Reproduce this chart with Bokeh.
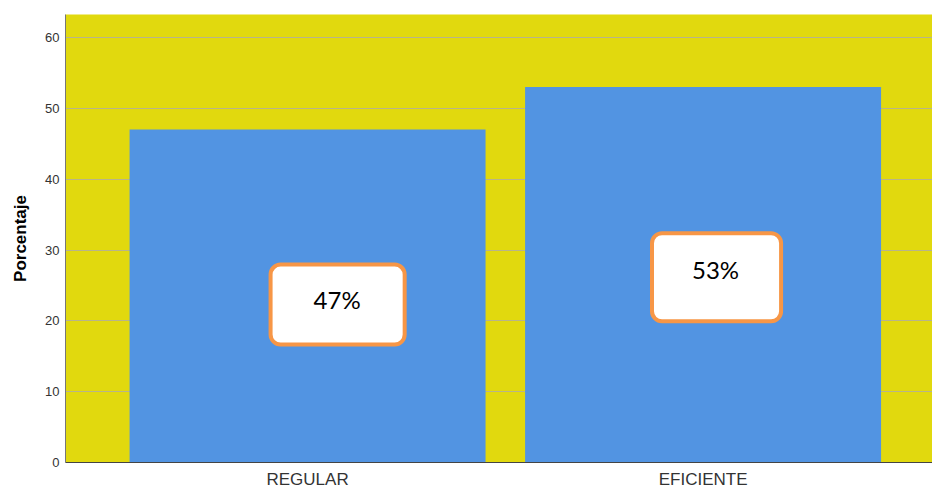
from bokeh.plotting import figure
from bokeh.models import ColumnDataSource, Label, FixedTicker, Range1d
from bokeh.embed import file_html
from bokeh.resources import INLINE

categories = ["REGULAR", "EFICIENTE"]
x_pos = [1, 2]
porcentaje = [47, 53]
label_texts = ["47%", "53%"]
label_x = [1.076, 2.034]
label_y = [22.3, 26.15]
y_ticks = [0, 10, 20, 30, 40, 50, 60]

src = ColumnDataSource(dict(x=x_pos, top=porcentaje, cat=categories))

p = figure(width=932, height=488, output_backend="svg", toolbar_location=None,
           x_range=Range1d(0.388, 2.58), y_range=Range1d(0, 63.25),
           frame_width=867, frame_height=448,
           min_border_left=65, min_border_right=0, min_border_top=14, min_border_bottom=26)
p.background_fill_color = "#E1D90E"
p.border_fill_color = "white"
p.outline_line_color = None

p.vbar(x="x", top="top", width=0.9, bottom=0, source=src,
       fill_color="#5294E2", line_color=None)

p.xgrid.grid_line_color = None
p.ygrid.grid_line_color = "#B8B48A"
p.ygrid.grid_line_width = 1
p.ygrid.ticker = FixedTicker(ticks=y_ticks)

p.yaxis.ticker = FixedTicker(ticks=y_ticks)
p.yaxis.axis_label = "Porcentaje"
p.yaxis.axis_label_text_font = "Liberation Sans"
p.yaxis.axis_label_text_font_style = "bold"
p.yaxis.axis_label_text_font_size = "17px"
p.yaxis.axis_label_text_color = "black"
p.yaxis.axis_label_standoff = 12
p.yaxis.major_label_text_font = "Liberation Sans"
p.yaxis.major_label_text_font_size = "13px"
p.yaxis.major_label_text_color = "#333333"
p.yaxis.major_label_standoff = 6
p.yaxis.major_tick_out = 0
p.yaxis.major_tick_in = 0
p.yaxis.minor_tick_line_color = None
p.yaxis.axis_line_color = "#777777"

p.xaxis.ticker = FixedTicker(ticks=x_pos)
p.xaxis.major_label_overrides = {x: c for x, c in zip(x_pos, categories)}
p.xaxis.major_label_text_font = "Liberation Sans"
p.xaxis.major_label_text_font_size = "17px"
p.xaxis.major_label_text_color = "#333333"
p.xaxis.major_label_standoff = 7
p.xaxis.major_tick_out = 0
p.xaxis.major_tick_in = 0
p.xaxis.minor_tick_line_color = None
p.xaxis.axis_line_color = "#444444"

pads = [dict(left=43, right=44, top=20, bottom=31),
        dict(left=40, right=42, top=22, bottom=37)]
for t, lx, ly, pd in zip(label_texts, label_x, label_y, pads):
    p.add_layout(Label(x=lx, y=ly, text=t, text_align="center", text_baseline="middle",
                       text_font="Lato", text_font_size="24px", text_color="black",
                       background_fill_color="white", border_line_color="#F79646",
                       border_line_width=4, border_radius=10, padding=pd))

open("out.html", "w").write(file_html(p, INLINE))
